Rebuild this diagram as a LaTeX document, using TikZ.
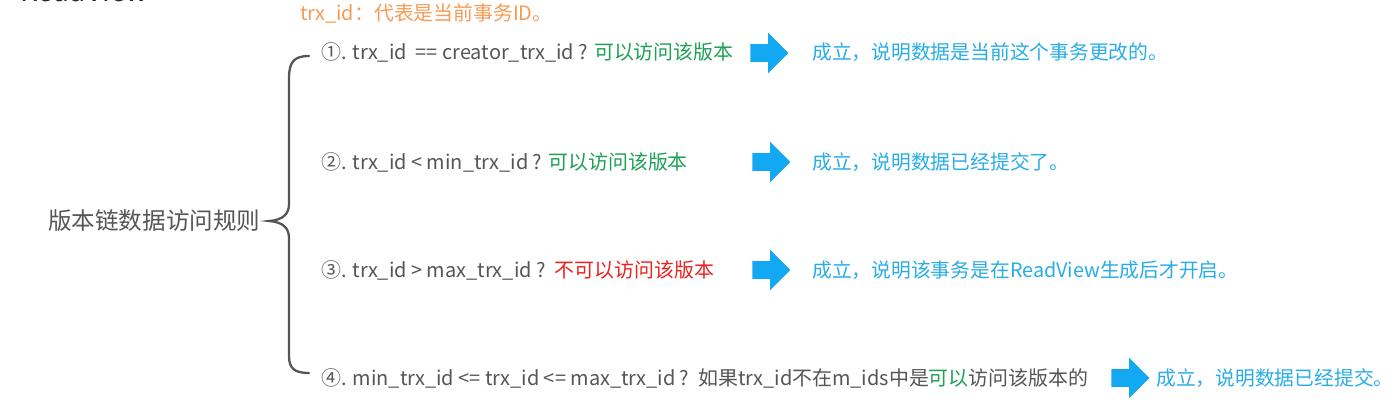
\documentclass[tikz,border=0pt]{standalone}
\usepackage{fontspec}
\setmainfont{Noto Sans CJK SC}
\usepackage{xcolor}
\usetikzlibrary{shapes.arrows}

\definecolor{rulegray}{RGB}{85,85,85}
\definecolor{okgreen}{RGB}{30,160,85}
\definecolor{nored}{RGB}{235,35,30}
\definecolor{resblue}{RGB}{40,172,230}
\definecolor{arrowblue}{RGB}{18,168,242}
\definecolor{noteorange}{RGB}{245,155,85}

\begin{document}
\begin{tikzpicture}[x=0.02cm,y=-0.02cm,
    rule/.style={anchor=west,inner sep=0pt,text=rulegray,font=\fontsize{11.35}{13}\selectfont},
    result/.style={anchor=west,inner sep=0pt,text=resblue,font=\fontsize{11.25}{13}\selectfont},
    goarrow/.style={single arrow,fill=arrowblue,draw=none,anchor=tail,
        minimum height=0.76cm,inner sep=0.17cm,single arrow head extend=0.23cm},
    brace/.style={draw=rulegray,line width=1.3pt,line cap=round}]

    \useasboundingbox (0,0) rectangle (1398,402);

    \node[anchor=base west,inner sep=0pt,text=black!85,font=\fontsize{16}{18}\selectfont] (title) at (20,1.5) {ReadView};
    \node[anchor=west,inner sep=0pt,text=noteorange,font=\fontsize{11.3}{13}\selectfont] (note) at (300,14) {trx\_id：代表是当前事务ID。};

    \node[rule,font=\fontsize{13.4}{15}\selectfont] (chain) at (48,221) {版本链数据访问规则};

    \coordinate (btop) at (309,56);
    \coordinate (btip) at (269,221);
    \coordinate (bbot) at (309,373);
    \draw[brace] (btop) .. controls (294,56) and (289,62) .. (289,78) -- (289,204)
        .. controls (289,214) and (283,220) .. (btip)
        .. controls (283,222) and (289,228) .. (289,238) -- (289,356)
        .. controls (289,368) and (294,373) .. (bbot);

    % rules
    \node[rule] (r1) at (321,52) {①. trx\_id\ \ == creator\_trx\_id ? \textcolor{okgreen}{可以访问该版本}};
    \node[rule] (r2) at (321,162) {②. trx\_id < min\_trx\_id ? \textcolor{okgreen}{可以访问该版本}};
    \node[rule] (r3) at (321,270) {③. trx\_id > max\_trx\_id ?\ \ \textcolor{nored}{不可以访问该版本}};
    \node[rule] (r4) at (321,378) {④. min\_trx\_id <= trx\_id <= max\_trx\_id ?\ \ 如果trx\_id不在m\_ids中是\textcolor{okgreen}{可以}访问该版本的};

    \node[goarrow] (a1) at (750,53) {};
    \node[goarrow] (a2) at (752,162) {};
    \node[goarrow] (a3) at (752,270) {};
    \node[goarrow] (a4) at (1111,378) {};

    \node[result] (s1) at (812,52) {成立，说明数据是当前这个事务更改的。};
    \node[result] (s2) at (812,162) {成立，说明数据已经提交了。};
    \node[result] (s3) at (812,270) {成立，说明该事务是在ReadView生成后才开启。};
    \node[result] (s4) at (1156,378) {成立，说明数据已经提交。};
\end{tikzpicture}
\end{document}
